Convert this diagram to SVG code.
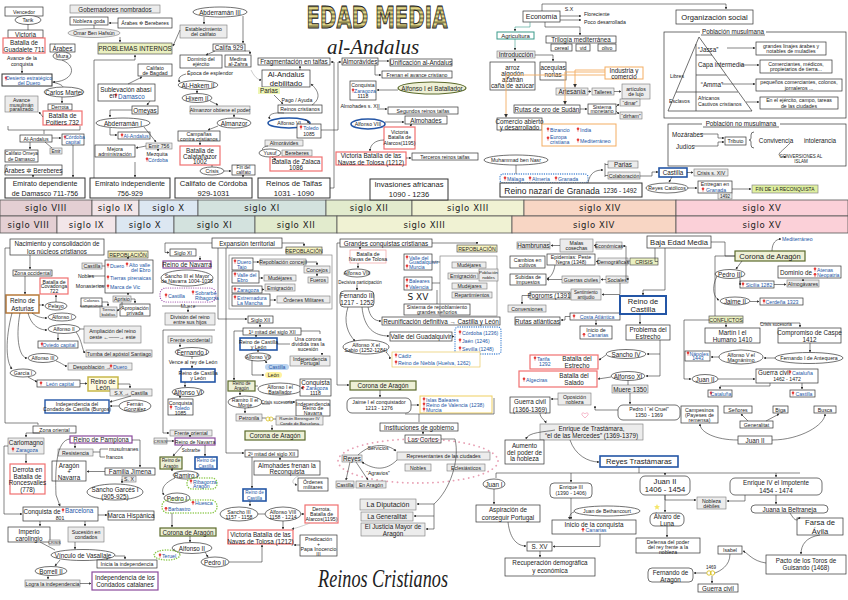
<svg xmlns="http://www.w3.org/2000/svg" width="848" height="600" viewBox="0 0 848 600">
<defs>
<style>
text{font-family:"Liberation Sans","DejaVu Sans",sans-serif;font-size:5.2px;fill:#222;text-anchor:middle;dominant-baseline:central}
.s{text-anchor:start}
.u{fill:#2456a6}
.m{font-size:6.3px}
.L{font-size:7.6px}
.sg{font-family:"DejaVu Sans",sans-serif;font-size:8.5px;letter-spacing:.6px}
rect,ellipse{fill:#fff;stroke:#333;stroke-width:.7}
.g{fill:#ececec;stroke:#777;stroke-width:.6}
.r{stroke:#f07070;stroke-width:1.2}
.c{stroke:#2456a6;stroke-width:1.6}
.ol{fill:#eef0d6;stroke:#5b6a2b;stroke-width:1.2}
.y{fill:#f5f2bf;stroke:#555}
.yg{fill:#eaf0c0;stroke:#555}
.p{stroke:#8a4a9c;stroke-width:1.2}
.or{stroke:#f3ad62;stroke-width:1}
.n{fill:none}
.dp{fill:none;stroke:#9b4aa8;stroke-width:1.2;stroke-dasharray:.1 2.2;stroke-linecap:round}
.dg{fill:none;stroke:#8cc84b;stroke-width:1.5;stroke-dasharray:.1 2.4;stroke-linecap:round}
.db{fill:none;stroke:#3c7fd0;stroke-width:1.3;stroke-dasharray:.1 2.2;stroke-linecap:round}
.dk{fill:none;stroke:#e8a0b4;stroke-width:1.8;stroke-dasharray:.1 5;stroke-linecap:round}
.ln{fill:none;stroke:#333;stroke-width:.7}
#cx path{fill:none;stroke:#333;stroke-width:.6}
#cx .a{marker-end:url(#a)}
#cx .o{stroke:#f3ad62;stroke-width:.9}
#cx .t{stroke:#3a9a8a}
#cx .gr{stroke:#aaa}
.tl{stroke:#555;stroke-width:.8}
</style>
<marker id="a" viewBox="0 0 6 6" refX="5" refY="3" markerWidth="4.5" markerHeight="4.5" orient="auto"><path d="M0 0L6 3L0 6z" fill="#333"/></marker>
<g id="pin"><circle cy="-1.2" r="1.3" fill="#e53935"/><path d="M0 -.4V1.6" stroke="#e53935" stroke-width=".7"/></g>
<pattern id="st" width="4" height="4" patternUnits="userSpaceOnUse"><rect width="4" height="4" style="fill:#e6d98a;stroke:none"/><rect width="4" height="1.5" style="fill:#6f6a3a;stroke:none"/></pattern>
</defs>
<rect width="848" height="600" style="fill:#fff;stroke:none"/>

<!-- Titles -->
<g id="title">
<text transform="translate(377 17.5) scale(0.66 1)" style="font-family:'DejaVu Sans',sans-serif;font-size:30px;font-weight:bold;fill:url(#st);stroke:#222;stroke-width:1">EDAD MEDIA</text>
<text transform="translate(373 47)" style="font-family:'Liberation Serif',serif;font-style:italic;font-size:21px">al-Andalus</text>
<text transform="translate(383 578) scale(0.7 1)" style="font-family:'Liberation Serif',serif;font-style:italic;font-size:26px">Reinos Cristianos</text>
</g>

<!-- Timeline -->
<g id="timeline">
<rect x="0" y="200" width="92" height="16" style="fill:#e4cfd3" class="tl"/><text class="sg" x="46" y="208">siglo VIII</text>
<rect x="92" y="200" width="47" height="16" style="fill:#f2e6e9" class="tl"/><text class="sg" x="115.5" y="208">siglo IX</text>
<rect x="139" y="200" width="59" height="16" style="fill:#dce7f2" class="tl"/><text class="sg" x="168.5" y="208">siglo X</text>
<rect x="198" y="200" width="128" height="16" style="fill:#d3e2de" class="tl"/><text class="sg" x="262" y="208">siglo XI</text>
<rect x="326" y="200" width="86" height="16" style="fill:#e2ebcd" class="tl"/><text class="sg" x="369" y="208">siglo XII</text>
<rect x="412" y="200" width="112" height="16" style="fill:#f0f2d3" class="tl"/><text class="sg" x="468" y="208">siglo XIII</text>
<rect x="524" y="200" width="152" height="16" style="fill:#f8d6c4" class="tl"/><text class="sg" x="600" y="208">siglo XIV</text>
<rect x="676" y="200" width="172" height="16" style="fill:#fbd0d8" class="tl"/><text class="sg" x="762" y="208">siglo XV</text>
<rect x="0" y="216" width="57" height="17" style="fill:#e4cfd3" class="tl"/><text class="sg" x="28.5" y="224.5">siglo VIII</text>
<rect x="57" y="216" width="59" height="17" style="fill:#f2e6e9" class="tl"/><text class="sg" x="86.5" y="224.5">siglo IX</text>
<rect x="116" y="216" width="58" height="17" style="fill:#dce7f2" class="tl"/><text class="sg" x="145" y="224.5">siglo X</text>
<rect x="174" y="216" width="81" height="17" style="fill:#d3e2de" class="tl"/><text class="sg" x="214.5" y="224.5">siglo XI</text>
<rect x="255" y="216" width="82" height="17" style="fill:#e2ebcd" class="tl"/><text class="sg" x="296" y="224.5">siglo XII</text>
<rect x="337" y="216" width="175" height="17" style="fill:#f0f2d3" class="tl"/><text class="sg" x="424.5" y="224.5">siglo XIII</text>
<rect x="512" y="216" width="164" height="17" style="fill:#f8d6c4" class="tl"/><text class="sg" x="594" y="224.5">siglo XIV</text>
<rect x="676" y="216" width="172" height="17" style="fill:#fbd0d8" class="tl"/><text class="sg" x="762" y="224.5">siglo XV</text>
</g>

<!-- ========== AL-ANDALUS ========== -->
<g id="vencedor"><rect x="5" y="7" width="38" height="9"/><text x="24" y="11.5">Vencedor</text></g>
<g id="tarik"><ellipse cx="28" cy="20" rx="13" ry="4.5"/><text x="28" y="20">Tarik</text></g>
<g id="victoria"><rect x="8" y="30" width="35" height="8"/><text class="m" x="25.5" y="34">Victoria</text></g>
<g id="guadalete"><rect class="r" x="3" y="38" width="42" height="15"/><text class="m" x="24" y="42.5">Batalla de<tspan x="24" dy="6.5">Guadalete 711</tspan></text></g>
<g id="avance"><text x="22" y="58">Avance de la<tspan x="22" dy="5.5">conquista</tspan></text></g>
<g id="arabes1"><rect x="50" y="44" width="25" height="8"/><text class="m" x="62.5" y="48">Árabes</text></g>
<g id="muza"><ellipse cx="62" cy="56" rx="9" ry="4"/><text x="62" y="56">Muza</text></g>
<g id="desierto"><rect x="2" y="74" width="50" height="12" style="stroke-width:1"/><use href="#pin" x="6" y="79"/><text class="u" x="29" y="77.5">Desierto estratégico<tspan x="29" dy="5.5">del Duero</tspan></text></g>
<g id="martel"><ellipse cx="64" cy="92" rx="20" ry="5"/><text class="m" x="64" y="92">Carlos Martel</text></g>
<g id="derrota1"><rect x="48" y="104" width="24" height="6"/><text x="60" y="107">Derrota</text></g>
<g id="poitiers"><rect class="r" x="43" y="111" width="39" height="14"/><text class="m" x="62.5" y="115">Batalla de<tspan x="62.5" dy="6.5">Poitiers 732</tspan></text></g>
<g id="paralizado"><rect class="g" x="5" y="96" width="33" height="16"/><text x="21.5" y="100">Avance<tspan x="21.5" dy="4.5">musulmán</tspan><tspan x="21.5" dy="4.5">paralizado</tspan></text></g>
<g id="alandalus1"><rect x="20" y="135" width="32" height="7"/><text x="36" y="138.5">Al-Andalus</text></g>
<g id="cordoba1"><rect x="62" y="134" width="22" height="11"/><use href="#pin" x="65" y="138"/><text class="u" x="75" y="137">Córdoba<tspan x="73" dy="5">capital</tspan></text></g>
<g id="emir1"><rect class="g" x="50" y="148" width="12" height="6"/><text x="56" y="151" style="font-size:4.5px">Emir</text></g>
<g id="omeyadam"><rect x="5" y="150" width="33" height="12"/><text x="21.5" y="153.5" style="font-size:4.8px">Califato Omeya<tspan x="21.5" dy="5">de Damasco</tspan></text></g>
<g id="arabes2"><rect x="5" y="165" width="57" height="10"/><text class="m" x="33.5" y="170">Árabes ✲ Bereberes</text></g>
<g id="emdep"><rect x="5" y="178" width="80" height="20" style="stroke-width:1"/><text x="45" y="183.5" style="font-size:7px">Emirato dependiente<tspan x="45" dy="9">de Damasco 711-756</tspan></text></g>

<g id="gobern"><rect class="g" x="70" y="5" width="90" height="8"/><text class="m" x="115" y="9">Gobernadores nombrados</text></g>
<g id="nobleza"><rect x="70" y="17" width="38" height="8"/><text x="89" y="21">Nobleza goda</text></g>
<g id="arabes3"><rect x="118" y="18" width="54" height="10"/><text x="145" y="23">Árabes ✲ Bereberes</text></g>
<g id="omar"><ellipse class="g" cx="94" cy="33" rx="26" ry="4.5"/><text x="94" y="33">Omar Ben Hafsún</text></g>
<g id="problemas"><rect class="yg" x="98" y="43" width="74" height="11"/><text class="m" x="135" y="48.5">PROBLEMAS INTERNOS</text></g>
<g id="bagdad"><rect x="138" y="64" width="34" height="12"/><text x="155" y="67.5">Califato<tspan x="155" dy="5">de Bagdad</tspan></text></g>
<g id="sublev"><rect x="98" y="84" width="57" height="17"/><text class="m" x="126" y="89">Sublevación abasí</text><use href="#pin" x="116" y="96"/><text class="m" x="127" y="95.5">en <tspan class="u">  Damasco</tspan></text></g>
<g id="omeyas"><rect x="132" y="106" width="26" height="8"/><text class="m" x="145" y="110">Omeyas</text></g>
<g id="abd1"><ellipse cx="123" cy="123" rx="27" ry="5"/><text class="m" x="123" y="123">Abderramán I</text></g>
<g id="alandalus2"><rect x="118" y="132" width="32" height="7"/><use href="#pin" x="122" y="136"/><text class="u" x="136" y="135.5">Al-Andalus</text></g>
<g id="mejora"><rect x="95" y="145" width="40" height="12"/><text x="115" y="148.5">Mejora<tspan x="115" dy="5">administración</tspan></text></g>
<g id="emir756"><rect class="g" x="146" y="143" width="26" height="6"/><text x="159" y="146">Emir 756</text></g>
<g id="mezquita"><text x="157" y="154">Mezquita</text><use href="#pin" x="147" y="160"/><text class="u" x="158" y="159.5">Córdoba</text></g>
<g id="emind"><rect x="90" y="178" width="80" height="20" style="stroke-width:1"/><text x="130" y="183.5" style="font-size:7px">Emirato independiente<tspan x="130" dy="9">756-929</tspan></text></g>

<g id="abd3"><ellipse cx="220" cy="12" rx="27" ry="5"/><text class="m" x="220" y="12">Abderramán III</text></g>
<g id="establ"><rect class="g" x="180" y="25" width="47" height="13"/><text x="203.5" y="28.5">Establecimiento<tspan x="203.5" dy="5">del califato</tspan></text></g>
<g id="califa929"><rect x="213" y="44" width="32" height="7"/><text class="m" x="229" y="47.5">Califa 929</text></g>
<g id="ejercito"><rect x="180" y="55" width="42" height="13"/><text x="201" y="58.5">Dominio del<tspan x="201" dy="5">ejército</tspan></text></g>
<g id="zahra"><rect x="225" y="55" width="26" height="12"/><text x="238" y="58.5">Medina<tspan x="238" dy="5">al-Zahra</tspan></text></g>
<text x="210" y="72.5">Época de esplendor</text>
<g id="hakem"><ellipse cx="198" cy="85" rx="20" ry="4.5"/><text class="m" x="198" y="85">Al-Hakem II</text></g>
<g id="hixem"><ellipse cx="197" cy="98" rx="15" ry="4.5"/><text class="m" x="197" y="98">Hixem II</text></g>
<g id="obtiene"><rect class="g" x="190" y="106" width="60" height="8"/><text x="220" y="110">Almanzor obtiene el poder</text></g>
<g id="almanzor"><ellipse cx="234" cy="123" rx="17" ry="5"/><text class="m" x="234" y="123">Almanzor</text></g>
<g id="campanas"><rect x="178" y="131" width="42" height="10"/><text x="199" y="133.8">Campañas<tspan x="199" dy="4.8">contra cristianos</tspan></text></g>
<g id="calata"><rect class="r" x="180" y="146" width="40" height="19"/><text class="m" x="200" y="150">Batalla de<tspan x="200" dy="5.5">Calatañazor</tspan><tspan x="200" dy="5.5">1002</tspan></text></g>
<g id="crisis1"><ellipse cx="212" cy="171" rx="12" ry="4"/><text x="212" y="171">Crisis</text></g>
<g id="fincal"><rect x="232" y="165" width="23" height="10"/><text x="243.5" y="167.8" style="font-size:4.6px">Fin del<tspan x="243.5" dy="4.6">califato</tspan></text></g>
<g id="califato"><rect x="175" y="178" width="77" height="20" style="stroke-width:1"/><text class="L" x="213.5" y="183.5">Califato de Córdoba<tspan x="213.5" dy="9">929-1031</tspan></text></g>

<g id="fragm"><rect x="258" y="58" width="72" height="7"/><text class="m" x="294" y="61.5">Fragmentación en taifas</text></g>
<g id="debil"><rect x="262" y="70" width="48" height="17"/><text class="L" x="286" y="74.5">Al-Andalus<tspan x="286" dy="8">debilitado</tspan></text></g>
<g id="parias1"><rect x="258" y="87" width="22" height="7" style="fill:#eef6b5;stroke:none"/><text class="m" x="269" y="90.5">Parias</text></g>
<text x="297" y="100">Pago / Ayuda</text>
<g id="reicris"><rect x="278" y="105" width="44" height="8"/><text x="300" y="109">Reinos cristianos</text></g>
<g id="alf6a"><ellipse class="c" cx="289" cy="123" rx="21" ry="5"/><text x="289" y="123">Alfonso VI</text></g>
<g id="toledo1"><rect x="297" y="124" width="24" height="14"/><use href="#pin" x="301" y="128"/><text class="u" x="311" y="127.5">Toledo</text><text x="309" y="134">1085</text></g>
<g id="almor1"><rect class="g" x="265" y="140" width="38" height="6"/><text x="284" y="143">Almorávides</text></g>
<g id="yusuf"><ellipse cx="270" cy="153" rx="11" ry="4"/><text x="270" y="153">Yusuf</text></g>
<g id="bereb"><rect class="g" x="282" y="150" width="30" height="6"/><text x="297" y="153">Bereberes</text></g>
<g id="zalaca"><rect class="r" x="270" y="157" width="52" height="14"/><text class="m" x="296" y="161">Batalla de Zalaca<tspan x="296" dy="6">1086</tspan></text></g>
<g id="taifas"><rect x="258" y="178" width="72" height="20" style="stroke-width:1"/><text class="L" x="294" y="183.5">Reinos de Taifas<tspan x="294" dy="9">1031 - 1090</tspan></text></g>

<g id="almor2"><rect x="342" y="58" width="36" height="7"/><text class="m" x="360" y="61.5">Almorávides</text></g>
<g id="unif"><rect x="390" y="59" width="62" height="7"/><text class="m" x="421" y="62.5">Unificación al-Andalus</text></g>
<g id="frenan"><rect x="382" y="71" width="70" height="7"/><text x="417" y="74.5">Frenan el avance cristiano</text></g>
<g id="alf1a"><ellipse class="ol" cx="432" cy="88" rx="34" ry="6"/><text class="m" x="432" y="88">Alfonso I el Batallador</text></g>
<g id="zarag1"><rect x="350" y="81" width="26" height="19"/><text x="363" y="85">Conquista</text><use href="#pin" x="353" y="91"/><text class="u" x="365" y="90.5">Zaragoza</text><text x="363" y="96">1118</text></g>
<text x="360" y="106">Almohades s. XII</text>
<g id="segundos"><rect x="388" y="107" width="70" height="7"/><text x="423" y="110.5">Segundos reinos taifas</text></g>
<g id="alf8a"><ellipse class="c" cx="368" cy="124" rx="17" ry="5"/><text x="368" y="124">Alfonso VIII</text></g>
<g id="almoh1"><rect x="405" y="116" width="42" height="8"/><text class="m" x="426" y="120">Almohades</text></g>
<g id="alarcos"><rect class="r" x="384" y="127" width="31" height="22"/><text x="399.5" y="131.5">Victoria<tspan x="399.5" dy="5.5">Batalla de</tspan><tspan x="399.5" dy="5.5">Alarcos(1195)</tspan></text></g>
<g id="navas1"><rect class="r" x="336" y="152" width="70" height="13"/><text class="m" x="371" y="155.5">Victoria Batalla de las<tspan x="371" dy="6">Navas de Tolosa (1212)</tspan></text></g>
<g id="terceros"><rect x="412" y="153" width="66" height="7"/><text x="445" y="156.5">Terceros reinos taifas</text></g>
<g id="invas"><rect x="370" y="179" width="78" height="21" style="stroke-width:1"/><text class="L" x="409" y="184.5">Invasiones africanas<tspan x="409" dy="9.5">1090 - 1236</tspan></text></g>

<!-- Economy -->
<g id="econ"><rect x="523" y="11" width="37" height="11"/><text x="541.5" y="16.5" style="font-size:7px">Economía</text></g>
<text x="569" y="8.5">S.X</text><text class="s" x="584" y="14">Floreciente</text><text class="s" x="584" y="22">Poco desarrollada</text>
<g id="agri"><rect x="497" y="32" width="37" height="7" style="stroke:#3a9a8a;stroke-width:1"/><text x="515.5" y="35.5" style="font-size:6px">Agricultura</text></g>
<g id="trilog"><rect x="546" y="36" width="70" height="7"/><text class="m" x="581" y="39.5">Trilogía mediterránea</text><rect x="551" y="44" width="21" height="7"/><text x="561.5" y="47.5">cereal</text><rect x="576" y="44" width="14" height="7"/><text x="583" y="47.5">vid</text><rect x="598" y="44" width="18" height="7"/><text x="607" y="47.5">olivo</text></g>
<g id="intro"><rect class="g" x="497" y="51" width="38" height="7"/><text class="m" x="516" y="54.5">Introducción</text></g>
<g id="arroz"><rect x="490" y="62" width="45" height="28"/><text class="m" x="512.5" y="67">arroz<tspan x="512.5" dy="6">algodón</tspan><tspan x="512.5" dy="6">azafrán</tspan><tspan x="512.5" dy="6">caña de azúcar</tspan></text></g>
<g id="acequias"><rect x="540" y="62" width="26" height="18"/><text class="m" x="553" y="67.5">acequias<tspan x="553" dy="6.5">norias</tspan></text></g>
<g id="industria"><rect class="or" x="605" y="67" width="38" height="12"/><text class="m" x="624" y="70.5">Industria y<tspan x="624" dy="5.5">comercio</tspan></text></g>
<g id="artes"><rect class="g" x="556" y="88" width="32" height="7"/><text class="m" x="572" y="91.5">Artesanía</text></g>
<g id="talleres"><rect class="g" x="592" y="88" width="22" height="7"/><text x="603" y="91.5">Talleres</text></g>
<g id="lujo"><rect class="g" x="622" y="84" width="28" height="15"/><text x="636" y="88.5">artículos<tspan x="636" dy="5.5">de lujo</tspan></text></g>
<g id="rutas"><rect x="514" y="105" width="66" height="8"/><text class="m" x="547" y="109">Rutas de oro de Sudán</text></g>
<g id="sistema"><rect x="588" y="104" width="28" height="10"/><text x="602" y="106.8">Sistema<tspan x="602" dy="4.6">monetario</tspan></text></g>
<g id="dinar"><rect class="g" x="620" y="99" width="20" height="7"/><text x="630" y="102.5">“dinar”</text></g>
<g id="dirham"><rect class="g" x="620" y="112" width="22" height="7"/><text x="631" y="115.5">“dirham”</text></g>
<g id="comercio"><rect x="497" y="118" width="45" height="12"/><text class="m" x="519.5" y="121.5">Comercio abierto<tspan x="519.5" dy="5.5">y desarrollado</tspan></text></g>
<g id="destinos"><rect class="or" x="542" y="124" width="74" height="22"/><use href="#pin" x="548" y="130"/><text class="u s" x="550" y="129.5">Bizancio</text><use href="#pin" x="578" y="130"/><text class="u s" x="580" y="129.5">India</text><use href="#pin" x="548" y="139"/><text class="u s" x="550" y="136.5">Europa<tspan x="550" dy="5">cristiana</tspan></text><use href="#pin" x="578" y="141"/><text class="u s" x="580" y="140.5">Mediterráneo</text></g>
<g id="nasr"><ellipse cx="516" cy="160" rx="32" ry="5"/><text x="516" y="160">Muhammad ben Nasr</text></g>
<g id="nazciud"><rect class="db" x="500" y="174" width="88" height="9" rx="3"/><use href="#pin" x="505" y="179"/><text class="u s" x="507" y="178.5">Málaga</text><use href="#pin" x="530" y="179"/><text class="u s" x="532" y="178.5">Almería</text><use href="#pin" x="556" y="179"/><text class="u s" x="558" y="178.5">Granada</text></g>
<g id="nazari"><rect x="500" y="183" width="142" height="14" style="stroke-width:1"/><text x="552" y="190.5" style="font-size:8.5px">Reino nazarí de Granada</text><text class="m" x="620" y="190.5">1236 - 1492</text></g>
<g id="parias2"><rect class="g" x="608" y="161" width="30" height="7"/><text class="m" x="623" y="164.5">Parias</text></g>
<g id="colab"><rect class="g" x="608" y="172" width="32" height="7"/><text x="624" y="175.5">Colaboración</text></g>

<!-- Social organisation -->
<g id="orgsoc"><rect x="676" y="10" width="77" height="14"/><text class="L" x="714.5" y="17">Organización social</text></g>
<g id="pobmus"><rect class="n" x="664" y="32" width="182" height="86"/><rect x="700" y="28" width="66" height="8" style="stroke:none"/><text class="m" x="733" y="31.5">Población musulmana</text><path class="ln" d="M701 35H765"/>
<path class="ln" d="M668 111L699 37L752 111ZM696 44V111M696 55H712M696 75H726M676 92H738"/>
<text class="m" x="708" y="49">“Jassa”</text><text class="s m" x="698" y="64">Capa intermedia</text><text class="m" x="712" y="84">“Amma”</text>
<text class="s" x="698" y="98">Africanos</text><text class="s" x="698" y="104">Cautivos cristianos</text>
<text x="677" y="76">Libres</text><text class="s" x="669" y="101">Esclavos</text></g>
<g id="jassa"><rect x="756" y="42" width="70" height="13"/><text x="791" y="45.5">grandes linajes árabes y<tspan x="791" dy="5.5">notables de muladíes</tspan></text></g>
<g id="capa"><rect x="760" y="60" width="72" height="13"/><text x="796" y="63.5">Comerciantes, médicos,<tspan x="796" dy="5.5">propietarios de tierra...</tspan></text></g>
<g id="amma"><rect x="756" y="79" width="86" height="12"/><text x="799" y="82">pequeños comerciantes, colonos,<tspan x="799" dy="5.5">jornaleros ...</tspan></text></g>
<g id="esclavos"><rect x="760" y="97" width="78" height="12"/><text x="799" y="100">En el ejército, campo, tareas<tspan x="799" dy="5.5">de las ciudades</tspan></text></g>
<g id="pobno"><rect class="n" x="668" y="124" width="178" height="42"/><rect x="702" y="120" width="78" height="8" style="stroke:none"/><text class="m" x="741" y="123.5">Población no musulmana</text><path class="ln" d="M703 127H779"/>
<text class="s m" x="672" y="134">Mozárabes</text><text class="s m" x="676" y="146">Judíos</text>
<rect x="725" y="137" width="21" height="8"/><text x="735.5" y="141">Tributo</text>
<path class="ln" d="M754 132Q751 132 751 135V138Q751 140 749 140Q751 140 751 142V145Q751 148 754 148"/>
<text class="m" x="776" y="140">Convivencia</text><text class="m" x="820" y="140">intolerancia</text>
<text x="801" y="156" style="font-size:4.5px">CONVERSIONES AL<tspan x="801" dy="5">ISLAM</tspan></text></g>
<g id="castilla0"><rect class="c" x="659" y="168" width="28" height="9"/><text class="m" x="673" y="172.5">Castilla</text></g>
<g id="crisisxiv"><rect class="g" x="694" y="169" width="34" height="7"/><text x="711" y="172.5">Crisis s. XIV</text></g>
<g id="rrcc"><ellipse cx="667" cy="188" rx="21" ry="5"/><text x="667" y="188">Reyes Católicos</text></g>
<g id="entregan"><rect x="698" y="181" width="34" height="12"/><text x="715" y="184">Entregan en</text><use href="#pin" x="703" y="190"/><text class="u" x="716" y="189.5">Granada</text><rect class="g" x="718" y="193" width="14" height="6"/><text x="725" y="196" style="font-size:4.5px">1492</text></g>
<g id="finrec"><rect x="752" y="185" width="66" height="8" style="fill:#dff0a0;stroke:#888"/><text x="785" y="189" style="font-size:4.8px">FIN DE LA RECONQUISTA</text></g>

<!-- ========== REINOS CRISTIANOS ========== -->
<g id="nacim"><rect x="10" y="239" width="94" height="16"/><text class="m" x="57" y="243.5">Nacimiento y consolidación de<tspan x="57" dy="7">los núcleos cristianos</tspan></text></g>
<g id="repob1"><rect class="y" x="108" y="251" width="40" height="7"/><text x="128" y="254.5">REPOBLACIÓN</text></g>
<g id="repobz"><rect x="105" y="260" width="48" height="33"/><use href="#pin" x="108" y="266"/><text class="u s" x="110" y="265.5">Duero</text><use href="#pin" x="127" y="265"/><text class="u s" x="129" y="264.5">Alto valle<tspan x="131" dy="5">del Ebro</tspan></text><use href="#pin" x="108" y="278"/><text class="u s" x="110" y="277.5">Tierras pirenaicas</text><use href="#pin" x="108" y="287"/><text class="u s" x="110" y="286.5">Marca de Vic</text></g>
<g id="castz"><rect class="g" x="82" y="263" width="20" height="6"/><text x="92" y="266">Castilla</text></g>
<text x="86" y="276">Nobles</text><text x="90" y="286">Monasterios</text>
<g id="aprisio"><rect class="g" x="113" y="296" width="18" height="6"/><text x="122" y="299">Aprisio</text></g>
<g id="colonos"><rect x="81" y="298" width="21" height="9"/><text x="91.5" y="300.5" style="font-size:4.3px">Colonos<tspan x="91.5" dy="4.3">campesinos</tspan></text></g>
<g id="baldias"><rect class="g" x="100" y="307" width="17" height="10"/><text x="108.5" y="309.6" style="font-size:4.3px">Tierras<tspan x="108.5" dy="4.6">baldías</tspan></text></g>
<g id="apropia"><rect x="120" y="304" width="30" height="12"/><text x="135" y="307.5">Apropiación<tspan x="135" dy="5">privada</tspan></text></g>
<g id="zonaocc"><rect x="13" y="270" width="39" height="6"/><text x="32.5" y="273">Zona occidental</text></g>
<g id="covadonga"><rect class="r" x="40" y="278" width="28" height="16"/><text x="54" y="281.5">Batalla de<tspan x="54" dy="4.6">Covadonga</tspan><tspan x="54" dy="4.6">722</tspan></text></g>
<g id="asturias"><rect x="6" y="295" width="33" height="18" style="stroke:#b87a3a;stroke-width:1.5"/><text class="m" x="22.5" y="300.5">Reino de<tspan x="22.5" dy="7">Asturias</tspan></text></g>
<g id="pelayo"><ellipse cx="56" cy="306" rx="11" ry="4"/><text x="56" y="306">Pelayo</text></g>
<g id="alf1b"><ellipse cx="62" cy="317" rx="14" ry="4"/><text x="62" y="317">Alfonso I</text></g>
<g id="alf2b"><ellipse cx="64" cy="329" rx="16" ry="4.5"/><text x="64" y="329">Alfonso II</text></g>
<g id="ampliacion"><rect class="g" x="84" y="326" width="57" height="17"/><text x="112.5" y="331">Ampliación del reino<tspan x="112.5" dy="6">oeste ←——→ este</tspan></text></g>
<g id="oviedo"><rect x="38" y="341" width="40" height="7"/><use href="#pin" x="42" y="345"/><text class="u" x="59" y="344.5">Oviedo capital</text></g>
<g id="tumba"><rect class="g" x="86" y="350" width="66" height="7"/><text x="119" y="353.5">Tumba del apóstol Santiago</text></g>
<g id="alf3"><ellipse cx="43" cy="358" rx="15" ry="4.5"/><text x="43" y="358">Alfonso III</text></g>
<g id="despob"><rect class="g" x="68" y="363" width="64" height="7"/><text x="92" y="366.5">Despoblación →</text><use href="#pin" x="111" y="367"/><text class="u s" x="113" y="366.5">Duero</text></g>
<g id="garcia"><ellipse cx="23" cy="373" rx="13" ry="4"/><text x="23" y="373">García I</text></g>
<g id="leoncap"><rect x="37" y="380" width="43" height="7"/><use href="#pin" x="41" y="384"/><text class="u" x="60" y="383.5">León capital</text></g>
<g id="leon"><rect x="88" y="377" width="30" height="14" style="fill:#fffbe0;stroke:#c8b84a;stroke-width:1.5"/><text class="m" x="103" y="381">Reino de<tspan x="103" dy="6">León</tspan></text></g>
<g id="sxcast"><rect class="g" x="110" y="389" width="42" height="7"/><text x="131" y="392.5">S.X → Castilla</text></g>
<g id="indcast"><rect x="45" y="400" width="64" height="13" style="stroke:#2456a6;stroke-width:1.4"/><text x="77" y="403.5">Independencia del<tspan x="77" dy="5.5">Condado de Castilla (Burgos)</tspan></text></g>
<g id="fernan"><ellipse cx="135" cy="406" rx="16" ry="6"/><text x="135" y="403.5">Fernán<tspan x="135" dy="5">González</tspan></text></g>

<g id="zonaori"><rect x="33" y="426" width="43" height="7"/><text x="54.5" y="429.5">Zona oriental</text></g>
<g id="carlomagno"><rect class="g" x="8" y="438" width="36" height="16"/><text class="m" x="26" y="442">Carlomagno</text><use href="#pin" x="13" y="450"/><text class="u" x="27" y="449.5">Zaragoza</text></g>
<g id="ronces"><rect class="r" x="10" y="464" width="35" height="30"/><text class="m" x="27.5" y="469">Derrota en<tspan x="27.5" dy="6.5">Batalla de</tspan><tspan x="27.5" dy="6.5">Roncesvalles</tspan><tspan x="27.5" dy="6.5">(778)</tspan></text></g>
<g id="pamplona"><rect class="p" x="70" y="436" width="62" height="7"/><text class="m" x="101" y="439.5">Reino de Pamplona</text></g>
<g id="resist"><rect class="g" x="58" y="449" width="35" height="7"/><text x="75.5" y="452.5">Resistencia</text></g>
<text class="s" x="109" y="449">musulmanes</text><text class="s" x="106" y="457">francos</text>
<g id="aragnav"><rect x="52" y="461" width="34" height="20"/><text class="m" x="69" y="465.5">Aragón<tspan x="69" dy="5.5">+</tspan><tspan x="69" dy="5.5">Navarra</tspan></text></g>
<g id="jimena"><rect x="105" y="468" width="50" height="7"/><text class="m" x="130" y="471.5">Familia Jimena</text></g>
<g id="sx1"><rect class="g" x="122" y="476" width="14" height="6"/><text x="129" y="479">S. X</text></g>
<g id="sancho1"><ellipse cx="115" cy="492" rx="28" ry="8"/><text class="m" x="115" y="489">Sancho Garcés I<tspan x="115" dy="6.5">(905-925)</tspan></text></g>
<g id="barcelona"><rect x="23" y="507" width="75" height="14"/><text class="m" x="42" y="511">Conquista de</text><use href="#pin" x="63" y="511"/><text class="u m s" x="65" y="510.5">Barcelona</text><text x="60" y="517.5">801</text></g>
<g id="marca"><rect x="108" y="511" width="46" height="9"/><text class="m" x="131" y="515.5">Marca Hispánica</text></g>
<g id="imperio"><rect x="8" y="527" width="42" height="15"/><text class="m" x="29" y="531">Imperio<tspan x="29" dy="6.5">carolingio</tspan></text></g>
<g id="crisis2"><rect class="g" x="49" y="540" width="11" height="5"/><text x="54.5" y="542.5" style="font-size:3.8px">CRISIS</text></g>
<g id="sucesion"><rect class="g" x="68" y="527" width="36" height="15"/><text x="86" y="531.5">Sucesión en<tspan x="86" dy="5.5">condados</tspan></text></g>
<g id="vinculo"><ellipse cx="83" cy="555" rx="32" ry="5.5"/><text class="m" x="83" y="555">Vínculo de Vasallaje</text></g>
<g id="inicia"><rect x="97" y="560" width="60" height="8"/><text x="127" y="564">Inicia la independencia</text></g>
<g id="borrell"><ellipse cx="51" cy="571" rx="16" ry="4.5"/><text class="m" x="51" y="571">Borrell II</text></g>
<g id="logra"><rect class="g" x="25" y="580" width="55" height="7"/><text x="52.5" y="583.5">Logra la independencia</text></g>
<g id="indcat"><rect class="p" x="92" y="572" width="66" height="18"/><text class="m" x="125" y="577">Independencia de los<tspan x="125" dy="7">Condados catalanes</tspan></text></g>

<g id="sxi"><rect x="170" y="249" width="26" height="7"/><text x="183" y="252.5">Siglo XI</text></g>
<g id="navarra1"><rect class="p" x="163" y="261" width="48" height="7"/><text class="m" x="187" y="264.5">Reino de Navarra</text></g>
<g id="sancho3"><ellipse cx="187" cy="278" rx="26" ry="8"/><text x="187" y="275.5">Sancho III el Mayor<tspan x="187" dy="5.5">de Navarra 1004-1035</tspan></text></g>
<g id="herencia"><rect class="dp" x="160" y="288" width="56" height="14" rx="6"/><use href="#pin" x="166" y="296"/><text class="u s" x="168" y="295.5">Castilla</text><use href="#pin" x="193" y="293"/><text class="u s" x="195" y="292.5">Sobrarbe<tspan x="195" dy="5">Ribagorza</tspan></text></g>
<text x="188" y="306">Muere</text>
<g id="division"><rect class="g" x="165" y="313" width="50" height="12"/><text x="190" y="316.5">División del reino<tspan x="190" dy="5">entre sus hijos</tspan></text></g>
<g id="frenteocc"><rect class="g" x="168" y="336" width="44" height="7"/><text x="190" y="339.5">Frente occidental</text></g>
<g id="fer1"><ellipse cx="192" cy="352" rx="17" ry="4.5"/><text class="m" x="192" y="352">Fernando I</text></g>
<text x="193" y="362">Vence al rey de León</text>
<g id="castleon1"><rect class="c" x="181" y="369" width="34" height="13"/><text x="198" y="372.5">Reino de Castilla<tspan x="198" dy="5.5">y León</tspan></text></g>
<g id="alf6b"><ellipse cx="188" cy="392" rx="16" ry="4.5"/><text class="m" x="188" y="392">Alfonso VI</text></g>
<g id="toledo2"><rect x="168" y="399" width="25" height="16"/><text x="180.5" y="402.5">Conquista</text><use href="#pin" x="171" y="408"/><text class="u" x="182" y="407.5">Toledo</text><text x="180.5" y="412.5">1085</text></g>
<g id="frenteori"><rect class="g" x="170" y="430" width="42" height="6"/><text x="191" y="433">Frente oriental</text></g>
<g id="crisis3"><rect class="g" x="154" y="438" width="13" height="6"/><text x="160.5" y="441" style="font-size:4px">CRISIS</text></g>
<g id="navarra2"><rect class="p" x="175" y="438" width="40" height="7"/><text x="195" y="441.5">Reino de Navarra</text></g>
<text x="191" y="450" style="font-size:4.5px">Sobrarbe</text>
<g id="aragon1"><rect class="ol" x="160" y="457" width="22" height="12"/><text x="171" y="460.5" style="font-size:4.6px">Reino de<tspan x="171" dy="5">Aragón</tspan></text></g>
<g id="castilla1"><rect class="c" x="195" y="457" width="22" height="12"/><text class="u" x="206" y="460.5" style="font-size:4.6px">Reino de<tspan x="206" dy="5">Castilla</tspan></text></g>
<g id="ramiro1"><ellipse cx="186" cy="475" rx="13" ry="4"/><text class="m" x="186" y="475">Ramiro I</text></g>
<g id="ribag"><rect class="dg" x="187" y="478" width="30" height="11" rx="5"/><use href="#pin" x="191" y="482"/><text class="u s" x="193" y="481.5">Ribagorza</text><text class="u s" x="193" y="486">Aragón</text></g>
<g id="pedro1"><ellipse cx="177" cy="498" rx="13" ry="5"/><text class="m" x="177" y="498">Pedro I</text></g>
<g id="huesca"><rect class="dg" x="162" y="500" width="55" height="13" rx="6"/><use href="#pin" x="193" y="503.5"/><text class="u s" x="195" y="503">Huesca</text><use href="#pin" x="166" y="509.5"/><text class="u s" x="168" y="509">Barbastro</text></g>
<g id="corona1"><rect class="ol" x="160" y="528" width="56" height="8"/><text class="m" x="188" y="532">Corona de Aragón</text></g>
<g id="alf2c"><ellipse cx="192" cy="548" rx="20" ry="5.5"/><text class="m" x="192" y="548">Alfonso II</text></g>
<g id="teruel"><ellipse class="dg" cx="167" cy="555" rx="13" ry="5"/><use href="#pin" x="160" y="556"/><text class="u s" x="162" y="555.5">Teruel</text></g>
<g id="pedro2"><ellipse cx="215" cy="562" rx="14" ry="5"/><text class="m" x="215" y="562">Pedro II</text></g>

<g id="expansion"><rect x="212" y="238" width="70" height="10"/><text class="m" x="247" y="243">Expansión territorial</text></g>
<g id="repob2"><rect class="y" x="286" y="247" width="36" height="7"/><text x="304" y="250.5">REPOBLACIÓN</text></g>
<rect class="n" x="229" y="255" width="103" height="54" style="stroke:#888"/>
<g id="duerotajo"><rect x="232" y="258" width="21" height="12"/><use href="#pin" x="235" y="262"/><text class="u s" x="237" y="261.5">Duero<tspan x="237" dy="5">Tajo</tspan></text></g>
<g id="concejil"><rect class="g" x="260" y="259" width="46" height="6"/><text x="283" y="262">Repoblación concejil</text></g>
<g id="concejos"><rect class="g" x="304" y="266" width="26" height="7"/><text x="317" y="269.5">Concejos</text></g>
<g id="fueros"><rect class="g" x="308" y="277" width="20" height="6"/><text x="318" y="280">Fueros</text></g>
<g id="ebro"><rect x="232" y="271" width="27" height="12"/><use href="#pin" x="235" y="275"/><text class="u s" x="237" y="274.5">Valle del<tspan x="237" dy="5">Ebro</tspan></text></g>
<g id="mudej1"><rect class="g" x="264" y="275" width="32" height="6"/><text x="280" y="278">Mudéjares</text></g>
<g id="zarag2"><rect x="232" y="286" width="30" height="7"/><use href="#pin" x="235" y="290"/><text class="u s" x="237" y="289.5">Zaragoza</text></g>
<g id="emigr1"><rect class="g" x="265" y="284" width="30" height="7"/><text x="280" y="287.5">Emigración</text></g>
<g id="extrem"><rect x="232" y="294" width="38" height="12"/><use href="#pin" x="235" y="298"/><text class="u s" x="237" y="297.5">Extremadura<tspan x="237" dy="5">La Mancha</tspan></text></g>
<g id="ordenes1"><rect class="g" x="277" y="296" width="53" height="7"/><text x="303.5" y="299.5">Órdenes Militares</text></g>
<g id="sxii"><rect x="248" y="316" width="25" height="7"/><text x="260.5" y="319.5">Siglo XII</text></g>
<g id="mitad1"><rect x="243" y="328" width="58" height="7"/><text x="272" y="331.5">1ª mitad del siglo XII</text></g>
<g id="castleon2"><rect class="c" x="240" y="338" width="37" height="12"/><text x="258.5" y="341.5">Reino de Castilla<tspan x="258.5" dy="5">y León</tspan></text></g>
<text x="308" y="339">Una corona<tspan x="308" dy="5">dividida tras la</tspan><tspan x="308" dy="5">sucesión</tspan></text>
<g id="alf7"><ellipse cx="258" cy="357" rx="13" ry="4"/><text x="258" y="357">Alfonso VII</text></g>
<g id="portugal"><rect class="g" x="290" y="356" width="40" height="10"/><text x="310" y="358.8">Independencia<tspan x="310" dy="4.6">Portugal</tspan></text></g>
<g id="castpill"><rect x="265" y="364" width="24" height="6" rx="3" style="fill:#bcd4f0;stroke:none"/><text class="u" x="277" y="367">Castilla</text></g>
<g id="leonpill"><rect x="265" y="372" width="17" height="6" rx="3" style="fill:#fff3a0;stroke:none"/><text x="273.5" y="375">León</text></g>
<g id="aragon2"><rect class="ol" x="228" y="381" width="27" height="10"/><text x="241.5" y="383.8" style="font-size:4.5px">Reino de<tspan x="241.5" dy="4.6">Aragón</tspan></text></g>
<g id="alf1c"><ellipse cx="280" cy="389" rx="22" ry="6"/><text x="280" y="386.5">Alfonso I el<tspan x="280" dy="5">Batallador</tspan></text></g>
<g id="zarag3"><rect x="300" y="379" width="31" height="17"/><text class="m" x="315.5" y="382.5">Conquista</text><use href="#pin" x="303" y="388.5"/><text class="u" x="317" y="388">Zaragoza</text><text x="315.5" y="393">1118</text></g>
<g id="ramiro2"><ellipse cx="245" cy="402" rx="17" ry="6"/><text x="245" y="399.5">Ramiro II el<tspan x="245" dy="5">Monje</tspan></text></g>
<text x="277" y="402" style="font-size:4.5px">Crisis sucesoria</text>
<g id="indnav"><rect x="296" y="400" width="34" height="16"/><text x="313" y="403.5">Independencia<tspan x="313" dy="4.8">Reino de</tspan><tspan x="313" dy="4.8">Navarra</tspan></text></g>
<g id="petronila"><rect class="g" x="236" y="414" width="26" height="7"/><text x="249" y="417.5">Petronila</text></g>
<g id="rings1"><circle cx="268" cy="419" r="2" style="fill:none;stroke:#d8c020;stroke-width:.8"/><circle cx="271" cy="419" r="2" style="fill:none;stroke:#d8c020;stroke-width:.8"/></g>
<g id="ramon"><rect class="g" x="276" y="416" width="47" height="9"/><text x="299.5" y="418.4" style="font-size:4.3px">Ramón Berenguer IV<tspan x="299.5" dy="4.2">Conde de Barcelona</tspan></text></g>
<g id="corona2"><rect class="ol" x="245" y="431" width="60" height="9"/><text class="m" x="275" y="435.5">Corona de Aragón</text></g>
<g id="mitad2"><rect x="245" y="450" width="53" height="7"/><text x="271.5" y="453.5">2ª mitad del siglo XII</text></g>
<g id="almfren"><rect x="254" y="461" width="66" height="14"/><text class="m" x="287" y="465">Almohades frenan la<tspan x="287" dy="6">Reconquista</tspan></text></g>
<g id="ordenes2"><rect x="298" y="478" width="30" height="13"/><text x="313" y="481.5">Órdenes<tspan x="313" dy="5.5">militares</tspan></text></g>
<g id="castilla2"><rect class="c" x="243" y="489" width="23" height="12"/><text class="u" x="254.5" y="492.5" style="font-size:4.6px">Reino de<tspan x="254.5" dy="5">Castilla</tspan></text></g>
<g id="sancho3c"><ellipse cx="239" cy="514" rx="19" ry="7"/><text x="239" y="511.5">Sancho III<tspan x="239" dy="5">1157 - 1158</tspan></text></g>
<g id="alf8b"><ellipse cx="283" cy="514" rx="18" ry="7"/><text x="283" y="511.5">Alfonso VIII<tspan x="283" dy="5">1158 - 1214</tspan></text></g>
<g id="alarcos2"><rect class="r" x="305" y="505" width="33" height="18"/><text x="321.5" y="509">Derrota.<tspan x="321.5" dy="5">Batalla de</tspan><tspan x="321.5" dy="5">Alarcos(1195)</tspan></text></g>
<g id="navas2"><rect class="r" x="228" y="530" width="65" height="14"/><text class="m" x="260.5" y="534">Victoria Batalla de las<tspan x="260.5" dy="6.5">Navas de Tolosa (1212)</tspan></text></g>
<g id="predica"><rect x="300" y="535" width="37" height="21"/><text x="318.5" y="538.5">Predicación<tspan x="318.5" dy="5">+</tspan><tspan x="318.5" dy="5">Papa Inocencio</tspan><tspan x="318.5" dy="5">III</tspan></text></g>

<g id="grandes"><rect x="340" y="239" width="92" height="8"/><text class="m" x="386" y="243">Grandes conquistas cristianas</text></g>
<g id="navas3"><rect x="350" y="250" width="36" height="13" style="stroke:#f0a0a0;stroke-width:.7"/><text x="368" y="253.5">Batalla de<tspan x="368" dy="5.5">Navas de Tolosa</tspan></text></g>
<g id="alf8c"><ellipse cx="357" cy="273" rx="13" ry="4"/><text x="357" y="273">Alfonso VIII</text></g>
<text x="360" y="282" style="font-size:4.5px">Decisiva participación</text>
<g id="fer3"><rect x="340" y="291" width="34" height="16" rx="4"/><text class="m" x="357" y="295">Fernando III<tspan x="357" dy="6.5">1217 - 1252</tspan></text></g>
<g id="guadal1"><rect x="404" y="254" width="28" height="16"/><use href="#pin" x="407" y="258"/><text class="u s" x="409" y="257.5">Valle del<tspan x="409" dy="4.5">Guadalquivir</tspan></text><use href="#pin" x="407" y="267"/><text class="u s" x="409" y="266.5">Murcia</text></g>
<g id="baleares"><rect x="404" y="277" width="28" height="13"/><use href="#pin" x="407" y="281"/><text class="u s" x="409" y="280.5">Baleares</text><use href="#pin" x="407" y="287"/><text class="u s" x="409" y="286.5">Valencia</text></g>
<text x="418" y="297" style="font-size:9px;font-family:'DejaVu Sans',sans-serif">S XV</text>
<g id="sistrep"><rect x="404" y="304" width="66" height="11"/><text x="437" y="307">Sistema de repoblamiento<tspan x="437" dy="5">grandes señoríos</tspan></text></g>
<g id="repob3"><rect class="y" x="457" y="245" width="40" height="7"/><text x="477" y="248.5">REPOBLACIÓN</text></g>
<rect class="n" x="440" y="256" width="57" height="60" style="stroke:#888"/>
<g id="mudej2"><rect class="g" x="452" y="262" width="34" height="6"/><text x="469" y="265">Mudéjares</text></g>
<g id="emigr2"><rect class="g" x="448" y="273" width="30" height="6"/><text x="463" y="276">Emigración</text></g>
<g id="pobnob"><rect class="g" x="479" y="269" width="19" height="12"/><text x="488.5" y="272.5" style="font-size:4.3px">Población<tspan x="488.5" dy="4.6">nobles</tspan></text></g>
<g id="mudej3"><rect class="g" x="452" y="283" width="35" height="6"/><text x="469.5" y="286">Mudéjares</text></g>
<g id="repart"><rect class="g" x="452" y="292" width="40" height="6"/><text x="472" y="295">Repartimientos</text></g>
<g id="reunif"><rect x="382" y="317" width="118" height="8"/><text class="m" x="441" y="321">Reunificación definitiva → Castilla y León</text></g>
<g id="valle"><rect x="390" y="332" width="62" height="9"/><text class="m" x="421" y="336.5">Valle del Guadalquivir</text></g>
<g id="ciudades"><rect class="db" x="455" y="327" width="46" height="27" rx="3"/><use href="#pin" x="460" y="333"/><text class="u s" x="462" y="332.5">Córdoba (1236)</text><use href="#pin" x="460" y="341"/><text class="u s" x="462" y="340.5">Jaén (1246)</text><use href="#pin" x="460" y="349"/><text class="u s" x="462" y="348.5">Sevilla (1248)</text></g>
<g id="alf10"><ellipse cx="366" cy="347" rx="23" ry="7"/><text x="366" y="344.5">Alfonso X el<tspan x="366" dy="5">Sabio (1252-1284)</tspan></text></g>
<g id="cadiz"><rect x="392" y="352" width="88" height="15" style="stroke:#e8c860"/><use href="#pin" x="396" y="356"/><text class="u s" x="398" y="355.5">Cádiz</text><use href="#pin" x="396" y="363"/><text class="u s" x="398" y="362.5">Reino de Niebla (Huelva, 1262)</text></g>
<g id="corona3"><rect class="ol" x="350" y="381" width="66" height="9"/><text class="m" x="383" y="385.5">Corona de Aragón</text></g>
<g id="jaime1"><rect x="347" y="398" width="64" height="15" rx="5"/><text x="379" y="402">Jaime I el conquistador<tspan x="379" dy="6">1213 - 1276</tspan></text></g>
<g id="jaimeconq"><rect x="420" y="396" width="72" height="17" style="stroke:#f0d060;stroke-width:1"/><use href="#pin" x="424" y="400"/><text class="u s" x="426" y="399.5">Islas Baleares</text><use href="#pin" x="424" y="405"/><text class="u s" x="426" y="404.5">Reino de Valencia (1238)</text><use href="#pin" x="424" y="410"/><text class="u s" x="426" y="409.5">Murcia</text></g>
<g id="instit"><rect x="380" y="423" width="78" height="8"/><text class="m" x="419" y="427">Instituciones de gobierno</text></g>
<g id="cortes"><rect x="405" y="435" width="36" height="8"/><text class="m" x="423" y="439">Las Cortes</text></g>
<ellipse class="dk" cx="418" cy="461" rx="80" ry="22"/>
<g id="reyes"><rect class="g" x="342" y="455" width="20" height="7"/><text class="m" x="352" y="458.5">Reyes</text></g>
<text x="378" y="448">Servicios</text><text x="378" y="473">“Agravios”</text>
<g id="represent"><rect class="g" x="397" y="452" width="93" height="8"/><text x="443.5" y="456">Representantes de las ciudades</text></g>
<g id="nobles2"><rect class="g" x="405" y="464" width="26" height="7"/><text x="418" y="467.5">Nobles</text></g>
<g id="ecles"><rect class="g" x="447" y="464" width="38" height="7"/><text x="466" y="467.5">Eclesiásticos</text></g>
<g id="castc"><rect class="g" x="336" y="481" width="18" height="7"/><text x="345" y="484.5">Castilla</text></g>
<g id="aragc"><rect class="g" x="356" y="481" width="30" height="7"/><text x="371" y="484.5">En Aragón</text></g>
<g id="diput"><rect class="g" x="360" y="499" width="56" height="11"/><text x="388" y="504.5" style="font-size:7px">La Diputación</text></g>
<g id="general"><rect class="g" x="361" y="512" width="52" height="9"/><text class="m" x="387" y="516.5">La Generalitat</text></g>
<g id="justicia"><rect class="g" x="361" y="523" width="64" height="13"/><text class="m" x="393" y="526.5">El Justicia Mayor de<tspan x="393" dy="6">Aragón</tspan></text></g>

<g id="baja"><rect x="647" y="236" width="64" height="12"/><text class="L" x="679" y="242">Baja Edad Media</text></g>
<g id="crisis4"><rect class="yg" x="630" y="258" width="28" height="7"/><text x="644" y="261.5">CRISIS</text></g>
<g id="hambre"><rect class="g" x="517" y="242" width="33" height="7"/><text class="m" x="533.5" y="245.5">Hambrunas</text></g>
<g id="malas"><rect class="g" x="560" y="239" width="33" height="13"/><text x="576.5" y="242.5">Malas<tspan x="576.5" dy="5.5">cosechas</tspan></text></g>
<g id="econo"><rect class="g" x="596" y="242" width="26" height="7"/><text x="609" y="245.5">Económicas</text></g>
<g id="cambios"><rect x="510" y="256" width="35" height="12"/><text x="527.5" y="259.5">Cambios en<tspan x="527.5" dy="5.5">cultivos</tspan></text></g>
<g id="epidem"><rect x="547" y="254" width="48" height="11"/><text x="571" y="257.3">Epidemias: Peste<tspan x="571" dy="5">Negra (1348)</tspan></text></g>
<g id="demog"><rect class="g" x="598" y="258" width="30" height="7"/><text x="613" y="261.5">Demográficas</text></g>
<g id="impuestos"><rect x="510" y="274" width="36" height="11"/><text x="528" y="277.3">Subidas de<tspan x="528" dy="5">impuestos</tspan></text></g>
<g id="gcivil1"><rect class="g" x="562" y="276" width="38" height="7"/><text x="581" y="279.5">Guerras civiles</text></g>
<g id="sociales"><rect class="g" x="606" y="276" width="22" height="7"/><text x="617" y="279.5">Sociales</text></g>
<g id="pogroms"><rect x="530" y="292" width="40" height="7"/><text class="m" x="550" y="295.5">Pogroms (1391)</text></g>
<g id="antij"><rect class="g" x="571" y="289" width="30" height="11"/><text x="586" y="292.3" style="font-size:4.5px">Sentimiento<tspan x="586" dy="4.6">antijudío</tspan></text></g>
<g id="convers"><rect class="g" x="508" y="305" width="38" height="7"/><text x="527" y="308.5">Conversiones</text></g>
<g id="rutasat"><rect x="515" y="317" width="45" height="8"/><text class="m" x="537.5" y="321">Rutas atlánticas</text></g>
<g id="costa"><rect x="570" y="313" width="50" height="7"/><use href="#pin" x="574" y="317"/><text class="u" x="597" y="316.5">Costa Atlántica</text></g>
<g id="canarias1"><rect x="580" y="326" width="32" height="13"/><text x="596" y="329.5">Inicio de</text><use href="#pin" x="584" y="335.5"/><text class="u" x="598" y="335">Canarias</text></g>
<g id="castilla3"><rect x="620" y="296" width="46" height="18" style="stroke:#2456a6;stroke-width:2"/><text class="L" x="643" y="301">Reino de<tspan x="643" dy="8">Castilla</tspan></text></g>
<g id="estrecho"><rect x="626" y="325" width="44" height="15"/><text class="m" x="648" y="329">Problema del<tspan x="648" dy="6.5">Estrecho</tspan></text></g>
<g id="sancho4"><ellipse cx="626" cy="354" rx="20" ry="4.5"/><text class="m" x="626" y="354">Sancho IV</text></g>
<g id="alf11"><ellipse cx="628" cy="376" rx="17" ry="4.5"/><text class="m" x="628" y="376">Alfonso XI</text></g>
<g id="muere"><rect class="g" x="612" y="385" width="36" height="8"/><text class="m" x="630" y="389">Muere 1350</text></g>
<g id="pedro1c"><rect x="618" y="405" width="62" height="15" rx="5"/><text x="649" y="409">Pedro I “el Cruel”<tspan x="649" dy="6">1350 - 1369</tspan></text></g>
<g id="tarifa"><rect class="r" x="530" y="355" width="68" height="14"/><use href="#pin" x="535" y="359"/><text class="u s" x="537" y="358.5">Tarifa<tspan x="539" dy="5">1292</tspan></text><text class="m" x="577" y="358.5">Batalla del<tspan x="577" dy="6">Estrecho</tspan></text></g>
<g id="salado"><rect class="r" x="519" y="371" width="78" height="16"/><use href="#pin" x="524" y="380"/><text class="u s" x="526" y="379.5">Algeciras</text><text class="m" x="574" y="375.5">Batalla del<tspan x="574" dy="6.5">Salado</tspan></text></g>
<g id="gcivil2"><rect x="510" y="397" width="40" height="16"/><text class="m" x="530" y="401.5">Guerra civil<tspan x="530" dy="7">(1366-1369)</tspan></text></g>
<g id="oposicion"><rect class="g" x="558" y="393" width="33" height="12"/><text x="574.5" y="396.5">Oposición<tspan x="574.5" dy="5">nobleza</tspan></text></g>
<path d="M585 414c-1.5-2-4-1-3 1l3 3 3-3c1-2-1.5-3-3-1z" style="fill:none;stroke:#f08aa8;stroke-width:.6"/>
<g id="enrtras"><rect class="g" x="540" y="424" width="103" height="16"/><text class="m" x="591.5" y="428">Enrique de Trastámara,<tspan x="591.5" dy="7">“el de las Mercedes” (1369-1379)</tspan></text></g>
<g id="aumento"><rect x="505" y="440" width="39" height="24"/><text class="m" x="524.5" y="445">Aumento<tspan x="524.5" dy="6.5">del poder de</tspan><tspan x="524.5" dy="6.5">la nobleza</tspan></text></g>
<g id="trastam"><rect x="600" y="456" width="78" height="11" style="stroke:#2456a6;stroke-width:1.6"/><text class="L" x="639" y="461.5">Reyes Trastámaras</text></g>

<g id="corona4"><rect class="ol" x="735" y="251" width="70" height="10"/><text class="L" x="770" y="256">Corona de Aragón</text></g>
<text class="u s" x="782" y="239">Mediterráneo</text>
<g id="pedro3"><ellipse cx="730" cy="274" rx="15" ry="4.5"/><text class="m" x="730" y="274">Pedro III</text></g>
<g id="atenas"><rect x="778" y="266" width="63" height="12"/><text class="m" x="796" y="272">Dominio de</text><use href="#pin" x="815" y="270"/><text class="u s" x="817" y="269.5">Atenas</text><use href="#pin" x="815" y="275.5"/><text class="u s" x="817" y="275">Neopatria</text></g>
<g id="sicilia"><rect x="740" y="281" width="34" height="7"/><use href="#pin" x="743" y="285"/><text class="u" x="759" y="284.5">Sicilia 1282</text></g>
<g id="almog"><rect class="g" x="787" y="280" width="32" height="7"/><text x="803" y="283.5">Almogávares</text></g>
<g id="jaime2"><ellipse cx="735" cy="301" rx="15" ry="4"/><text class="m" x="735" y="301">Jaime II</text></g>
<g id="cerdena"><rect x="760" y="298" width="43" height="7"/><use href="#pin" x="764" y="302"/><text class="u" x="782" y="301.5">Cerdeña 1323</text></g>
<g id="conflictos"><rect class="yg" x="709" y="316" width="34" height="7"/><text x="726" y="319.5">CONFLICTOS</text></g>
<text x="776" y="324" style="font-size:4.5px">Crisis sucesoria</text>
<g id="martin"><rect x="705" y="328" width="55" height="15"/><text class="m" x="732.5" y="332">Martín I el<tspan x="732.5" dy="6.5">Humano 1410</tspan></text></g>
<g id="caspe"><rect x="778" y="328" width="63" height="15"/><text class="m" x="809.5" y="332">Compromiso de Caspe<tspan x="809.5" dy="6.5">1412</tspan></text></g>
<g id="napoles"><rect x="685" y="351" width="25" height="10"/><use href="#pin" x="688" y="354"/><text class="u" x="699" y="353.5">Nápoles<tspan x="698" dy="4.6">1443</tspan></text></g>
<g id="alf5"><ellipse cx="741" cy="357" rx="22" ry="7"/><text x="741" y="354.5">Alfonso V el<tspan x="741" dy="5">Magnánimo</tspan></text></g>
<g id="fer1b"><ellipse cx="809" cy="358" rx="34" ry="5.5"/><text x="809" y="358">Fernando I de Antequera</text></g>
<g id="juan2a"><ellipse cx="705" cy="379" rx="13" ry="4.5"/><text class="m" x="705" y="379">Juan II</text></g>
<g id="gcivil3"><rect x="756" y="369" width="62" height="14"/><text class="m" x="774" y="372.5">Guerra civil</text><use href="#pin" x="790" y="373"/><text class="u s" x="792" y="372.5">Cataluña</text><text x="787" y="379">1462 - 1472</text></g>
<g id="catal"><rect x="708" y="390" width="24" height="7"/><use href="#pin" x="711" y="394"/><text class="u" x="721" y="393.5">Cataluña</text></g>
<g id="cast4"><rect x="790" y="390" width="25" height="7"/><use href="#pin" x="793" y="394"/><text class="u" x="804" y="393.5">Castilla</text></g>
<g id="payeses"><rect x="681" y="406" width="37" height="17"/><text x="699.5" y="409.5">Campesinos<tspan x="699.5" dy="5">(Payeses de</tspan><tspan x="699.5" dy="5">remensa)</tspan></text></g>
<g id="senores"><rect x="724" y="406" width="28" height="7"/><text x="738" y="409.5">Señores</text></g>
<g id="biga"><rect x="773" y="406" width="15" height="7"/><text x="780.5" y="409.5">Biga</text></g>
<g id="busca"><rect x="814" y="406" width="22" height="7"/><text x="825" y="409.5">Busca</text></g>
<g id="generalitat2"><rect x="740" y="421" width="33" height="7"/><text x="756.5" y="424.5">Generalitat</text></g>
<g id="juan2b"><rect x="738" y="436" width="34" height="8"/><text class="m" x="755" y="440">Juan II</text></g>

<g id="juan1"><ellipse cx="494" cy="484" rx="11" ry="5"/><text class="m" x="494" y="484">Juan I</text></g>
<g id="aspira"><rect x="476" y="505" width="64" height="17"/><text class="m" x="508" y="509.5">Aspiración de<tspan x="508" dy="7">conseguir Portugal</tspan></text></g>
<g id="enr3"><rect x="550" y="483" width="42" height="15" rx="4"/><text x="571" y="487">Enrique III<tspan x="571" dy="6">(1390 - 1406)</tspan></text></g>
<g id="bethan"><ellipse cx="607" cy="511" rx="33" ry="5"/><text x="607" y="511">Juan de Bethancourt</text></g>
<g id="canarias2"><rect x="552" y="520" width="84" height="14"/><text class="m" x="594" y="524">Inicio de la conquista</text><use href="#pin" x="583" y="530.5"/><text class="u" x="596" y="530">Canarias</text></g>
<g id="sxv"><rect x="527" y="542" width="25" height="9"/><text class="m" x="539.5" y="546.5">S. XV</text></g>
<g id="recup"><rect x="505" y="558" width="90" height="18"/><text class="m" x="550" y="562.5">Recuperación demográfica<tspan x="550" dy="7">y económica</tspan></text></g>
<g id="juan2c"><rect x="640" y="476" width="50" height="19" rx="5"/><text class="L" x="665" y="481">Juan II<tspan x="665" dy="8">1406 - 1454</tspan></text></g>
<g id="enr4"><rect x="730" y="478" width="92" height="17" rx="5"/><text class="m" x="776" y="482.5">Enrique IV el Impotente<tspan x="776" dy="7">1454 - 1474</tspan></text></g>
<g id="nobdeb"><rect class="g" x="697" y="497" width="29" height="12"/><text x="711.5" y="500.5">Nobleza<tspan x="711.5" dy="5">débiles</tspan></text></g>
<g id="juana"><rect x="751" y="505" width="77" height="8" rx="4"/><text class="m" x="789.5" y="509">Juana la Beltraneja</text></g>
<path d="M657 504l.9 2 2.1.2-1.6 1.4.5 2.1-1.9-1.1-1.9 1.1.5-2.1-1.6-1.4 2.1-.2z" style="fill:#f5e66a;stroke:none"/>
<g id="alvaro"><rect x="650" y="513" width="34" height="13" rx="5"/><text class="m" x="667" y="516.5">Álvaro de<tspan x="667" dy="6">Luna</tspan></text></g>
<g id="avila"><rect x="797" y="518" width="46" height="17"/><text class="L" x="820" y="522.5">Farsa de<tspan x="820" dy="8">Ávila</tspan></text></g>
<g id="defensa"><rect x="636" y="538" width="64" height="15"/><text x="668" y="541.5">Defensa del poder<tspan x="668" dy="5">del rey frente a la</tspan><tspan x="668" dy="5">nobleza</tspan></text></g>
<g id="isabel"><rect x="718" y="546" width="24" height="8"/><text x="730" y="550">Isabel</text></g>
<g id="guisando"><rect x="766" y="555" width="80" height="19"/><text class="m" x="806" y="560">Pacto de los Toros de<tspan x="806" dy="7">Guisando (1468)</tspan></text></g>
<g id="fernarag"><rect x="648" y="568" width="45" height="14" rx="4"/><text class="m" x="670.5" y="572">Fernando de<tspan x="670.5" dy="6.5">Aragón</tspan></text></g>
<g id="boda"><text x="711" y="567" style="font-size:4.5px">1469</text><circle cx="709" cy="573" r="2.2" style="fill:none;stroke:#d8c020;stroke-width:.9"/><circle cx="712.5" cy="573" r="2.2" style="fill:none;stroke:#d8c020;stroke-width:.9"/></g>
<g id="gcivil4"><rect x="698" y="584" width="40" height="8"/><text class="m" x="718" y="588">Guerra civil</text></g>

<!-- Connectors -->
<g id="cx">
<path d="M28 24.5V30"/>
<path class="a" d="M22 66V73"/>
<path class="a" d="M62 60C80 68 70 82 53 82"/>
<path d="M52 82C60 84 62 85 63 87"/>
<path class="a" d="M62 97V103"/>
<path class="a" d="M43 117L39 112"/>
<path d="M8 126V130H80V126M44 130V134"/>
<path class="a" d="M52 138H61"/>
<path class="a" d="M30 142V149"/>
<path d="M45 142L52 148"/>
<path class="a" d="M73 145V177"/>
<path class="a" d="M33 175V177"/>
<path class="a" d="M118 23H109"/>
<path d="M94 28.5V25"/>
<path class="a" d="M120 37V42"/>
<path class="a" d="M180 30L173 46"/>
<path class="a" d="M128 84L142 77"/>
<path class="a" d="M150 101L147 105"/>
<path class="a" d="M132 110H110V117"/>
<path class="a" d="M110 128V135H117"/>
<path class="a" d="M144 127L156 142"/>
<path class="a" d="M158 149V151"/>
<path class="a" d="M146 146L136 148"/>
<path class="a" d="M135 162V177"/>
<path class="a" d="M94 178V60H135V55"/>
<path class="a" d="M204 17V24"/>
<path class="a" d="M243 16V43"/>
<path class="a" d="M245 51H250V54"/>
<path class="a" d="M215 51L206 55"/>
<path class="a" d="M186 74C178 76 178 80 180 82"/>
<path class="a" d="M197 89.5V93"/>
<path class="a" d="M210 101L218 105"/>
<path class="a" d="M234 114V117"/>
<path class="a" d="M218 126L208 130"/>
<path class="a" d="M200 141V145"/>
<path d="M212 165V167"/>
<path class="a" d="M224 171H231"/>
<path class="a" d="M243 175V177"/>
<path class="gr a" d="M251 70C256 80 260 80 261 79"/>
<path class="a" d="M330 188H334V62H331"/>
<path class="a" d="M300 70V66"/>
<path class="a" d="M312 105C322 98 318 90 311 84"/>
<path class="a" d="M274 95L283 104"/>
<path class="a" d="M284 113C270 112 268 116 270 119"/>
<path class="a" d="M305 119L309 123"/>
<path class="a" d="M321 130H338V62H341"/>
<path d="M268 146C262 147 262 149 263 150"/>
<path class="a" d="M272 157L276 160"/>
<path class="a" d="M378 61H389"/>
<path class="a" d="M375 65V75H381"/>
<path class="a" d="M398 90H377"/>
<path class="a" d="M377 109H387"/>
<path class="a" d="M385 122H404"/>
<path class="a" d="M412 124L410 126"/>
<path class="a" d="M384 140C375 140 370 145 370 151"/>
<path class="a" d="M406 158H411"/>
<path class="a" d="M542 11V4H726V9"/>
<path class="t a" d="M530 22V27H515V31"/>
<path class="a" d="M545 22V27H580V35"/>
<path class="t a" d="M515 39V50"/>
<path class="a" d="M515 58V61"/>
<path class="a" d="M535 55H553V61"/>
<path class="a" d="M560 16H581"/>
<path class="a" d="M560 20H581"/>
<path class="o a" d="M605 70H575V87"/>
<path class="o a" d="M605 72H565V104"/>
<path class="o a" d="M605 75H506V117"/>
<path class="a" d="M588 91.5H591"/>
<path class="a" d="M614 91.5H621"/>
<path class="a" d="M580 109H587"/>
<path class="a" d="M616 107L619 104"/>
<path class="a" d="M616 111L619 114"/>
<path d="M516 165V174"/>
<path class="a" d="M588 183C590 172 596 170 603 170"/>
<path d="M605 163V177M605 164.5H608M605 175.5H608"/>
<path class="a" d="M640 176H652V172H658"/>
<path class="a" d="M672 177L669 182"/>
<path class="a" d="M688 188H697"/>
<path class="a" d="M732 189H751"/>
<path class="a" d="M687 172.5H693"/>
<path class="a" d="M727 48H755"/>
<path class="a" d="M740 65H759"/>
<path class="a" d="M722 84H755"/>
<path class="a" d="M746 102H759"/>
<path class="a" d="M700 134H718V138H724"/>
<path class="a" d="M694 146H718V142H724"/>
<path class="a" d="M790 143C782 152 772 156 786 157"/>
<path d="M10 248H5V423H38V425"/>
<path class="a" d="M30 255V269"/>
<path class="a" d="M25 276V294"/>
<path class="a" d="M39 305H44"/>
<path class="a" d="M56 302V295"/>
<path class="a" d="M32 313C38 318 44 318 47 318"/>
<path class="a" d="M28 313C32 328 42 330 47 330"/>
<path class="a" d="M20 313C15 340 20 358 27 358"/>
<path class="a" d="M12 313C5 340 6 362 12 369"/>
<path d="M80 329H84"/>
<path class="a" d="M58 333.5V340"/>
<path class="a" d="M76 332C82 340 82 350 85 353"/>
<path class="a" d="M56 361C62 363 64 366 67 366"/>
<path class="a" d="M28 377L37 382"/>
<path class="a" d="M80 383.5H87"/>
<path class="a" d="M118 384H130V388"/>
<path class="a" d="M119 406H110"/>
<path class="a" d="M131 396L110 402"/>
<path d="M102 266H105M88 276H105M98 286H105"/>
<path class="a" d="M128 293V295"/>
<path class="a" d="M122 302V307L117 311"/>
<path class="a" d="M131 299H135V303"/>
<path class="a" d="M102 302H108V306"/>
<path class="a" d="M128 258V259"/>
<path class="a" d="M40 433H26V437"/>
<path class="a" d="M26 454V463"/>
<path class="a" d="M8 446H4V514H22"/>
<path class="a" d="M75 443V448"/>
<path d="M93 452H100V449H108M100 452V457H105"/>
<path class="a" d="M132 440H140V467"/>
<path class="a" d="M105 471.5H87"/>
<path class="a" d="M122 479V483"/>
<path class="a" d="M70 439C56 440 55 470 56 495L60 506"/>
<path class="a" d="M98 515H107"/>
<path class="a" d="M40 521V526"/>
<path class="a" d="M85 521V526"/>
<path class="a" d="M75 542V549"/>
<path d="M40 542L55 550"/>
<path class="a" d="M115 556H125V559"/>
<path class="a" d="M60 560L55 566"/>
<path class="a" d="M48 575.5V579"/>
<path class="a" d="M80 583.5H91"/>
<path class="a" d="M212 243H165V252.5H169"/>
<path class="a" d="M200 256V260"/>
<path d="M162 306H182M194 306H216"/>
<path class="a" d="M188 308.5V312"/>
<path d="M215 330H163V430"/>
<path class="a" d="M180 343V347"/>
<path class="a" d="M192 356.5V359M192 365V368"/>
<path class="a" d="M185 382V387"/>
<path class="a" d="M180 396.5V398"/>
<path class="a" d="M163 430V433H169"/>
<path class="a" d="M190 436V437"/>
<path class="a" d="M167 441H174"/>
<path class="a" d="M183 445L173 456"/>
<path class="a" d="M205 445V456"/>
<path class="a" d="M172 469V471"/>
<path class="a" d="M175 478C160 485 162 492 164 495"/>
<path class="a" d="M172 513V527"/>
<path class="a" d="M190 536V542"/>
<path class="a" d="M205 552L208 557"/>
<path d="M173 550L175 549"/>
<path class="a" d="M229 562H262V545"/>
<path class="a" d="M282 243H304V246"/>
<path class="a" d="M253 262H259"/>
<path class="a" d="M306 262H317V265"/>
<path class="a" d="M317 273V276"/>
<path class="a" d="M259 278H263"/>
<path class="a" d="M262 289.5H264"/>
<path class="a" d="M270 300H276"/>
<path class="a" d="M218 248V319H247"/>
<path class="a" d="M260 323V327"/>
<path class="a" d="M256 335V337"/>
<path d="M301 331H320V334"/>
<path class="a" d="M258 350V352"/>
<path class="a" d="M264 360L267 363"/>
<path class="a" d="M252 360V375H264"/>
<path class="a" d="M322 354V355"/>
<path d="M277 344H290"/>
<path class="a" d="M243 331H234V380"/>
<path d="M255 386H258"/>
<path class="a" d="M302 388H301"/>
<path class="a" d="M240 391V395"/>
<path class="a" d="M245 408V413"/>
<path class="a" d="M262 404H270M285 402H295"/>
<path d="M262 418H266M273 419H276"/>
<path class="a" d="M272 425V430"/>
<path class="a" d="M226 248V453H244"/>
<path class="a" d="M280 457V460"/>
<path class="gr a" d="M300 475C290 480 292 484 297 485"/>
<path class="a" d="M252 457V488"/>
<path class="a" d="M250 501V506"/>
<path d="M258 514H265"/>
<path class="a" d="M301 514H304"/>
<path class="a" d="M283 521V529"/>
<path class="a" d="M300 545H294"/>
<path class="gr a" d="M310 523C300 527 296 528 292 529"/>
<path class="a" d="M340 243H337V385H349"/>
<path class="a" d="M432 243H477V244"/>
<path class="a" d="M360 247V249"/>
<path class="a" d="M358 263V268"/>
<path class="a" d="M357 285V290"/>
<path class="a" d="M368 307C370 317 374 321 381 321"/>
<path class="a" d="M362 307C364 328 374 336 389 336"/>
<path class="a" d="M348 307C343 322 348 334 355 341"/>
<path class="a" d="M386 352C389 355 390 358 391 358"/>
<path class="a" d="M452 336.5H454"/>
<path d="M432 262H440M432 283H440M437 304V290"/>
<path class="a" d="M380 390V397"/>
<path class="a" d="M411 405H419"/>
<path d="M405 414H494V398M419 414V422"/>
<path class="a" d="M423 431V434"/>
<path class="a" d="M358 455C372 442 388 444 396 451"/>
<path class="a" d="M397 460C386 471 374 470 362 462"/>
<path class="a" d="M350 462L346 480"/>
<path class="a" d="M356 462L368 480"/>
<path class="a" d="M434 504H417"/>
<path class="a" d="M434 516H414"/>
<path class="a" d="M434 529H426"/>
<path d="M441 439H455C460 460 450 490 434 504V529"/>
<path d="M655 248V261.5H658"/>
<path class="a" d="M630 261H626V246H623"/>
<path class="a" d="M626 262V279H629"/>
<path class="a" d="M596 245.5H594"/>
<path class="a" d="M560 245.5H551"/>
<path class="a" d="M598 261.5H596"/>
<path class="a" d="M555 265C554 272 551 277 547 279"/>
<path class="a" d="M606 279.5H601"/>
<path class="a" d="M562 279.5H547"/>
<path class="a" d="M620 283V294.5H602"/>
<path class="a" d="M530 295.5H522V304"/>
<path class="a" d="M665 248V290H643V295"/>
<path class="a" d="M570 316.5H565V320H561"/>
<path class="a" d="M596 320V325"/>
<path class="a" d="M640 314V324"/>
<path class="a" d="M660 340V376H646"/>
<path class="a" d="M660 354H647"/>
<path class="a" d="M606 355L599 360"/>
<path class="a" d="M611 377L598 379"/>
<path d="M628 380.5V385"/>
<path class="a" d="M630 393V404"/>
<path class="a" d="M618 410H595V406"/>
<path class="a" d="M558 399H551"/>
<path class="a" d="M540 413C540 418 545 420 546 423"/>
<path class="a" d="M555 430C545 432 528 432 526 439"/>
<path class="a" d="M570 440C575 455 588 462 599 462"/>
<path d="M711 242H725V256H735"/>
<path class="a" d="M772 251C772 243 776 239 781 239"/>
<path class="a" d="M742 261L736 269"/>
<path class="a" d="M740 278V284H739"/>
<path class="a" d="M774 284.5H786"/>
<path class="a" d="M803 280V279"/>
<path class="a" d="M717 276C711 288 714 298 719 300"/>
<path class="a" d="M750 301.5H759"/>
<path d="M735 256H715V316"/>
<path class="a" d="M726 323V327"/>
<path class="a" d="M709 320H684V379H691"/>
<path class="a" d="M760 323H800V327"/>
<path class="a" d="M810 343V352"/>
<path class="a" d="M775 358H764"/>
<path class="a" d="M719 357H711"/>
<path class="a" d="M718 379H755"/>
<path class="a" d="M770 383V386H720V389"/>
<path class="a" d="M802 383V389"/>
<path class="a" d="M738 440C715 440 700 432 700 424"/>
<path class="a" d="M772 440C800 440 825 425 825 414"/>
<path class="a" d="M748 421L741 414"/>
<path class="a" d="M766 421L779 414"/>
<path d="M639 467V473M496 473H800M496 473V478"/>
<path class="a" d="M571 473V482"/>
<path class="a" d="M665 473V475"/>
<path class="a" d="M776 473V477"/>
<path class="a" d="M494 489V504"/>
<path class="a" d="M508 522C510 540 518 546 526 546"/>
<path class="a" d="M571 498V519"/>
<path class="a" d="M574 512C570 513 569 517 570 519"/>
<path class="a" d="M600 534V546.5H553"/>
<path class="a" d="M540 551V557"/>
<path class="a" d="M665 495V500H696"/>
<path class="a" d="M745 495V501H727"/>
<path class="a" d="M665 495V512"/>
<path class="a" d="M667 526V537"/>
<path class="a" d="M776 495V504"/>
<path class="a" d="M790 513C794 519 796 523 800 517"/>
<path class="a" d="M820 535C806 537 801 545 801 554"/>
<path class="a" d="M766 563C752 561 748 553 743 551"/>
<path d="M730 554C730 566 720 571 715 573"/>
<path class="a" d="M706.5 573H694"/>
<path class="a" d="M712 576V583"/>
</g>
</svg>
